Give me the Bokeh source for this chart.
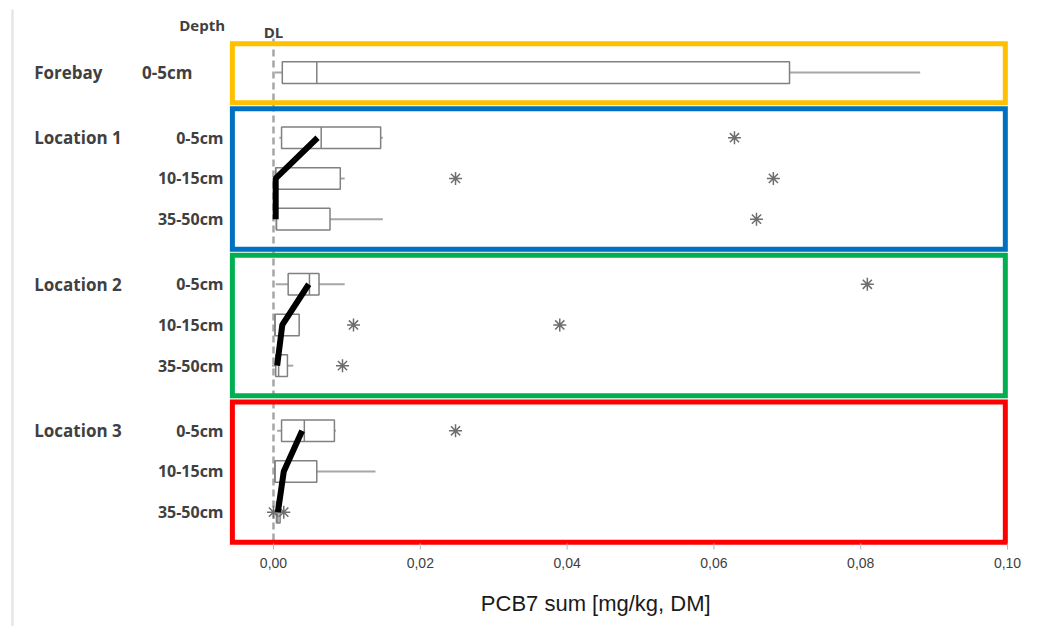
from bokeh.plotting import figure
from bokeh.models import Range1d, ColumnDataSource
from bokeh.core.properties import value
from bokeh.embed import file_html
from bokeh.resources import INLINE

# ---------------- data ----------------
groups = ["Forebay", "Location 1", "Location 2", "Location 3"]
group_depths = [["0-5cm"], ["0-5cm", "10-15cm", "35-50cm"],
                ["0-5cm", "10-15cm", "35-50cm"], ["0-5cm", "10-15cm", "35-50cm"]]
group_colors = ["#ffc000", "#0070c0", "#00b050", "#ff0000"]

# box statistics per row (in order of groups/depths)
row_group = [0, 1, 1, 1, 2, 2, 2, 3, 3, 3]
row_depth = [0, 0, 1, 2, 0, 1, 2, 0, 1, 2]
w_lo = [0.0002, 0.0008, 0.0003, 0.0004, 0.0003, 0.0001, -0.0002, 0.0005, 0.0002, 0.0001]
q1 = [0.0012, 0.0011, 0.0003, 0.0004, 0.0020, 0.0002, 0.0003, 0.0011, 0.0002, 0.0004]
med = [0.0059, 0.0065, 0.0003, 0.0004, 0.0049, 0.0002, 0.0007, 0.0042, 0.0002, 0.0006]
q3 = [0.0703, 0.0146, 0.0091, 0.0077, 0.0062, 0.0035, 0.0019, 0.0083, 0.0059, 0.0009]
w_hi = [0.0881, 0.0149, 0.0097, 0.0149, 0.0097, 0.0035, 0.0027, 0.0085, 0.0139, 0.0012]

# outliers (group, depth index, value)
out_group = [1, 1, 1, 1, 2, 2, 2, 2, 3, 3, 3]
out_depth = [0, 1, 1, 2, 0, 1, 1, 2, 0, 2, 2]
out_value = [0.0628, 0.0248, 0.0681, 0.0658, 0.0809, 0.0109, 0.0390, 0.0094, 0.0248, 0.0000, 0.0014]

# trend lines (black) per location
trend_l1 = [0.0060, 0.0003, 0.0003]
trend_l2 = [0.0048, 0.0012, 0.0005]
trend_l3 = [0.0039, 0.0014, 0.0006]

detection_limit = 0.0
x_ticks = [0.0, 0.02, 0.04, 0.06, 0.08, 0.10]
x_tick_labels = ["0,00", "0,02", "0,04", "0,06", "0,08", "0,10"]
x_title = "PCB7 sum [mg/kg, DM]"

# ---------------- layout helpers ----------------
group_offset = [0.0, 1.6, 5.2, 8.8]


def ypos(g, d):
    return group_offset[g] + d


FONT = "Open Sans"
LABEL_COLOR = "#404040"
AXIS_Y = 11.57          # where tick marks start (just below last frame)
PX = 1.0 / 40.7         # one pixel in y data units

p = figure(width=1043, height=626,
           x_range=Range1d(-0.03719, 0.10490), y_range=Range1d(13.609, -1.772),
           output_backend="svg", toolbar_location=None,
           x_axis_location=None, y_axis_location=None,
           min_border=0)
p.grid.visible = False
p.outline_line_color = None
p.background_fill_color = "white"
p.border_fill_color = "white"

# faint outer frame line on the left
p.segment(x0=[-0.03556], y0=[-1.55], x1=[-0.03556], y1=[13.7],
          line_color="#e6e6e6", line_width=2.5)

# detection limit dashed line
p.segment(x0=[detection_limit], y0=[-0.84], x1=[detection_limit], y1=[AXIS_Y + 1 * PX],
          line_color="#a6a6a6", line_width=2.5, line_dash="7 4")

# coloured group frames
tops, bottoms = [], []
for g, ds in enumerate(group_depths):
    tops.append(ypos(g, 0) - 0.71)
    bottoms.append(ypos(g, len(ds) - 1) + 0.74)
p.quad(left=[-0.0056] * 4, right=[0.0997] * 4, top=tops, bottom=bottoms,
       fill_color=None, line_color=group_colors, line_width=5, line_join="miter")

# box plots
ys = [ypos(g, d) for g, d in zip(row_group, row_depth)]
src = ColumnDataSource(dict(y=ys, lo=w_lo, q1=q1, med=med, q3=q3, hi=w_hi))
p.segment(x0="lo", y0="y", x1="q1", y1="y", source=src, line_color="#a6a6a6", line_width=2)
p.segment(x0="q3", y0="y", x1="hi", y1="y", source=src, line_color="#a6a6a6", line_width=2)
p.hbar(y="y", left="q1", right="q3", height=0.53, source=src,
       fill_color="white", line_color="#808080", line_width=1.5)
src_m = ColumnDataSource(dict(x=med, y0=[y - 0.265 for y in ys], y1=[y + 0.265 for y in ys]))
p.segment(x0="x", y0="y0", x1="x", y1="y1", source=src_m, line_color="#808080", line_width=1.5)

# outliers
oy = [ypos(g, d) for g, d in zip(out_group, out_depth)]
p.scatter(x=out_value, y=oy, marker="asterisk", size=13, line_color="#6e6e6e", line_width=1.5)

# trend lines
for g, tr in zip([1, 2, 3], [trend_l1, trend_l2, trend_l3]):
    p.line(x=tr, y=[ypos(g, d) for d in range(len(tr))], line_color="black", line_width=6)

# x axis: ticks and labels
p.segment(x0=x_ticks, y0=[AXIS_Y] * len(x_ticks), x1=x_ticks, y1=[AXIS_Y + 6 * PX] * len(x_ticks),
          line_color="#b4b4b4", line_width=1)
p.text(x=x_ticks, y=[12.06] * len(x_ticks), text=x_tick_labels,
       text_font=value("Liberation Sans"), text_font_size="14px", text_color="#404040",
       text_align="center", text_baseline="middle")
p.text(x=[0.0439], y=[13.04], text=[x_title], text_font=value("Liberation Sans"),
       text_font_size="22px", text_color="#1a1a1a", text_align="center", text_baseline="middle")

# row / group labels
p.text(x=[-0.0326] * len(groups), y=[ypos(g, 0) for g in range(len(groups))], text=groups,
       text_font=value(FONT), text_font_style="bold", text_font_size="17px",
       text_color=LABEL_COLOR, text_align="left", text_baseline="middle")

dx, dy, dt = [], [], []
for g in range(1, len(groups)):
    for d, dn in enumerate(group_depths[g]):
        dx.append(-0.0068)
        dy.append(ypos(g, d))
        dt.append(dn)
p.text(x=dx, y=dy, text=dt, text_font=value(FONT), text_font_style="bold",
       text_font_size="16px", text_color=LABEL_COLOR, text_align="right", text_baseline="middle")
p.text(x=[-0.0179], y=[ypos(0, 0)], text=group_depths[0], text_font=value(FONT),
       text_font_style="bold", text_font_size="17px", text_color=LABEL_COLOR,
       text_align="left", text_baseline="middle")

p.text(x=[-0.0066], y=[-1.18], text=["Depth"], text_font=value(FONT), text_font_style="bold",
       text_font_size="15px", text_color=LABEL_COLOR, text_align="right", text_baseline="middle")
p.text(x=[detection_limit], y=[-1.0], text=["DL"], text_font=value(FONT), text_font_style="bold",
       text_font_size="15px", text_color=LABEL_COLOR, text_align="center", text_baseline="middle")

open("out.html", "w").write(file_html(p, INLINE))
